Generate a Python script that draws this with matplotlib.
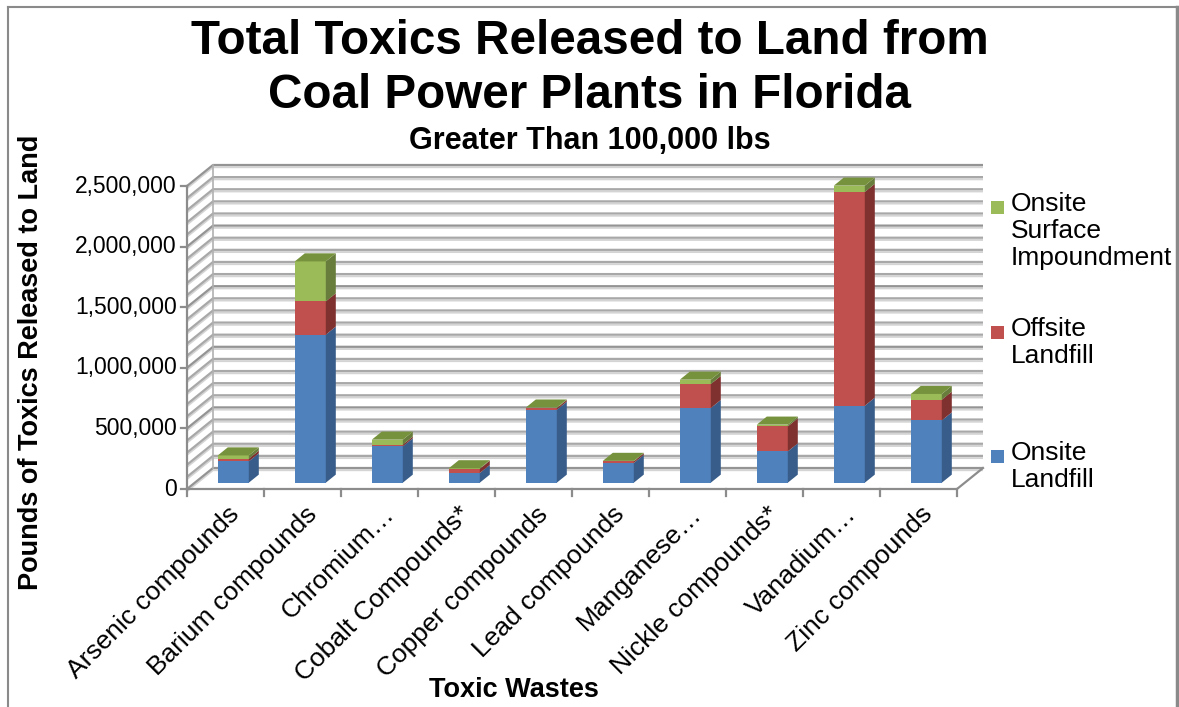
import matplotlib
matplotlib.use("Agg")
import matplotlib.pyplot as plt
from matplotlib.patches import Polygon, Rectangle
import numpy as np

plt.rcParams['font.family'] = ['Liberation Sans', 'DejaVu Sans']

categories = ["Arsenic compounds", "Barium compounds", "Chromium\u2026", "Cobalt Compounds*",
              "Copper compounds", "Lead compounds", "Manganese\u2026", "Nickle compounds*",
              "Vanadium\u2026", "Zinc compounds"]
onsite_landfill = [176000, 1221000, 300000, 80000, 602000, 163000, 616000, 258000, 635000, 514000]
offsite_landfill = [22000, 275000, 14000, 35000, 14000, 13000, 198000, 207000, 1764000, 171000]
surface_impound = [27000, 330000, 41000, 4000, 4000, 4000, 36000, 14000, 52000, 47000]
series_names = ["Onsite Landfill", "Offsite Landfill", "Onsite Surface Impoundment"]
y_ticks = [0, 500000, 1000000, 1500000, 2000000, 2500000]
y_ticklabels = ["0", "500,000", "1,000,000", "1,500,000", "2,000,000", "2,500,000"]

W, H = 1179, 707
fig = plt.figure(figsize=(W / 100, H / 100), dpi=100)

# axes placement in pixels
x0p, x1p = 187, 983
y0p, y1p = 489, 166
ax = fig.add_axes([x0p / W, 1 - y0p / H, (x1p - x0p) / W, (y0p - y1p) / H])
n = len(categories)
px_per_cat = 77.0
DX = 26 / px_per_cat
px_per_val = 121.2 / 1e6
DY = 21 / px_per_val
ax.set_xlim(0, (x1p - x0p) / px_per_cat)
ax.set_ylim(0, (y0p - y1p) / px_per_val)
ax.axis('off')

grid_c = '#a8a8a8'
shadow_c = '#d4d4d4'
sh = 2.2 / px_per_val
# gridlines every 100k (back wall + side wall)
for v in np.arange(0, 2500001, 100000):
    major = (v % 500000 == 0)
    c = '#949494' if major else grid_c
    ax.plot([0, DX, n + DX], [v - sh, v + DY - sh, v + DY - sh], color=shadow_c, lw=1.4,
            zorder=1, clip_on=False, solid_capstyle='butt')
    ax.plot([0, DX, n + DX], [v, v + DY, v + DY], color=c, lw=1.6, zorder=2, clip_on=False,
            solid_capstyle='butt')

axis_c = '#8c8c8c'
ax.plot([0, 0], [0, 2500000], color=axis_c, lw=1.6, zorder=3, clip_on=False)
ax.plot([DX, DX], [DY, 2500000 + DY], color='#b0b0b0', lw=1.2, zorder=2, clip_on=False)
ax.plot([0, n, n + DX], [0, 0, DY], color=axis_c, lw=1.6, zorder=3, clip_on=False)
for v in y_ticks:
    ax.plot([0, -6 / px_per_cat], [v, v], color=axis_c, lw=1.6, clip_on=False, zorder=3)
for i in range(n + 1):
    ax.plot([i, i], [0, -7 / px_per_val], color=axis_c, lw=1.6, clip_on=False, zorder=3)

for v, lab in zip(y_ticks, y_ticklabels):
    ax.text(-10 / px_per_cat, v, lab, ha='right', va='center', fontsize=16.5, color='black')

for i, lab in enumerate(categories):
    ax.text(i + 0.5 + 2 / px_per_cat, -13 / px_per_val, lab, rotation=45, ha='right', va='top',
            rotation_mode='anchor', fontsize=19, color='black')

# bars
front_c = ['#4f81bd', '#c0504d', '#9bbb59']
side_c = ['#385d8a', '#7f312f', '#687d3b']
top_c = ['#3f6a9e', '#9e3a37', '#76923c']
bw = 31 / px_per_cat
f = 0.3
d = 10 / 26
series = [onsite_landfill, offsite_landfill, surface_impound]
for i in range(n):
    xl = i + 0.5 - bw / 2 + f * DX
    xr = xl + bw
    base = f * DY
    cum = base
    for s in range(3):
        v = series[s][i]
        y0, y1 = cum, cum + v
        ax.add_patch(Rectangle((xl, y0), bw, v, facecolor=front_c[s], edgecolor='none', zorder=5))
        ax.add_patch(Polygon([(xr, y0), (xr + d * DX, y0 + d * DY), (xr + d * DX, y1 + d * DY), (xr, y1)],
                             closed=True, facecolor=side_c[s], edgecolor='none', zorder=5))
        cum = y1
    ax.add_patch(Polygon([(xl, cum), (xr, cum), (xr + d * DX, cum + d * DY), (xl + d * DX, cum + d * DY)],
                         closed=True, facecolor=top_c[2], edgecolor='none', zorder=6))

# titles
fig.text(590 / W, 1 - 42 / H, "Total Toxics Released to Land from", ha='center', va='center',
         fontsize=34.3, fontweight='bold')
fig.text(590 / W, 1 - 96 / H, "Coal Power Plants in Florida", ha='center', va='center',
         fontsize=34.3, fontweight='bold')
fig.text(590 / W, 1 - 141 / H, "Greater Than 100,000 lbs", ha='center', va='center',
         fontsize=22, fontweight='bold')
fig.text(31 / W, 1 - 362 / H, "Pounds of Toxics Released to Land", rotation=90, ha='center',
         va='center', fontsize=19.5, fontweight='bold')
fig.text(514 / W, 1 - 690 / H, "Toxic Wastes", ha='center', va='center', fontsize=19.5,
         fontweight='bold')

# legend
leg = [("Onsite\nSurface\nImpoundment", front_c[2], 207),
       ("Offsite\nLandfill", front_c[1], 332),
       ("Onsite\nLandfill", front_c[0], 456)]
for txt, col, yc in leg:
    fig.patches.append(Rectangle((991 / W, 1 - (yc + 6.5) / H), 13 / W, 13 / H, facecolor=col,
                                 edgecolor='none', transform=fig.transFigure, figure=fig))
    fig.text(1011 / W, 1 - (yc - 15) / H, txt, ha='left', va='top', fontsize=19,
             linespacing=1.15)

# frame
fig.add_artist(plt.Line2D([8 / W, 8 / W], [0, 1 - 7 / H], color='#8a8a8a', lw=1.5,
                          transform=fig.transFigure))
fig.add_artist(plt.Line2D([8 / W, 1177 / W], [1 - 7 / H, 1 - 7 / H], color='#8a8a8a', lw=1.5,
                          transform=fig.transFigure))
fig.add_artist(plt.Line2D([1177 / W, 1177 / W], [0, 1 - 7 / H], color='#8a8a8a', lw=2.5,
                          transform=fig.transFigure))

fig.savefig("out.png", dpi=100)
